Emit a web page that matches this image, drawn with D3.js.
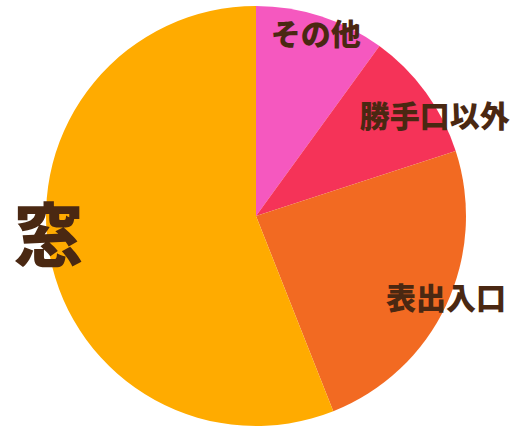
<!DOCTYPE html>
<html>
<head>
<meta charset="utf-8">
<script src="https://cdn.jsdelivr.net/npm/d3@7"></script>
<style>
  html, body { margin: 0; padding: 0; background: #fff; }
  svg { display: block; }
</style>
</head>
<body>
<svg id="chart"></svg>
<script>
const categories = ["その他", "勝手口以外", "表出入口", "窓"];
const values = [10, 10, 24, 56];
const colors = ["#f558bf", "#f53358", "#f26a22", "#ffab00"];

const width = 513;
const height = 437;
const cx = 256, cy = 216, radius = 210;

// label tweaks, one per slice
const labelSize = [30, 30, 30, 69];
const labelShift = [[-2, 6], [17, 16], [9, -5], [-11, -22]];

const svg = d3.select("#chart").attr("width", width).attr("height", height);
const g = svg.append("g").attr("transform", `translate(${cx},${cy})`);

const pie = d3.pie().sort(null).value(d => d)(values);
const arc = d3.arc().innerRadius(0).outerRadius(radius);
const labelArc = d3.arc().innerRadius(200).outerRadius(200);

g.selectAll("path")
    .data(pie)
    .join("path")
        .attr("d", arc)
        .attr("fill", (d, i) => colors[i]);

g.selectAll("text")
    .data(pie)
    .join("text")
        .attr("x", (d, i) => labelArc.centroid(d)[0] + labelShift[i][0])
        .attr("y", (d, i) => labelArc.centroid(d)[1] + labelShift[i][1])
        .attr("text-anchor", "middle")
        .attr("dominant-baseline", "central")
        .attr("font-family", "'Noto Sans CJK JP', sans-serif")
        .attr("font-weight", 900)
        .attr("font-size", (d, i) => labelSize[i])
        .attr("fill", "#4a2812")
        .text((d, i) => categories[i]);
</script>
</body>
</html>
